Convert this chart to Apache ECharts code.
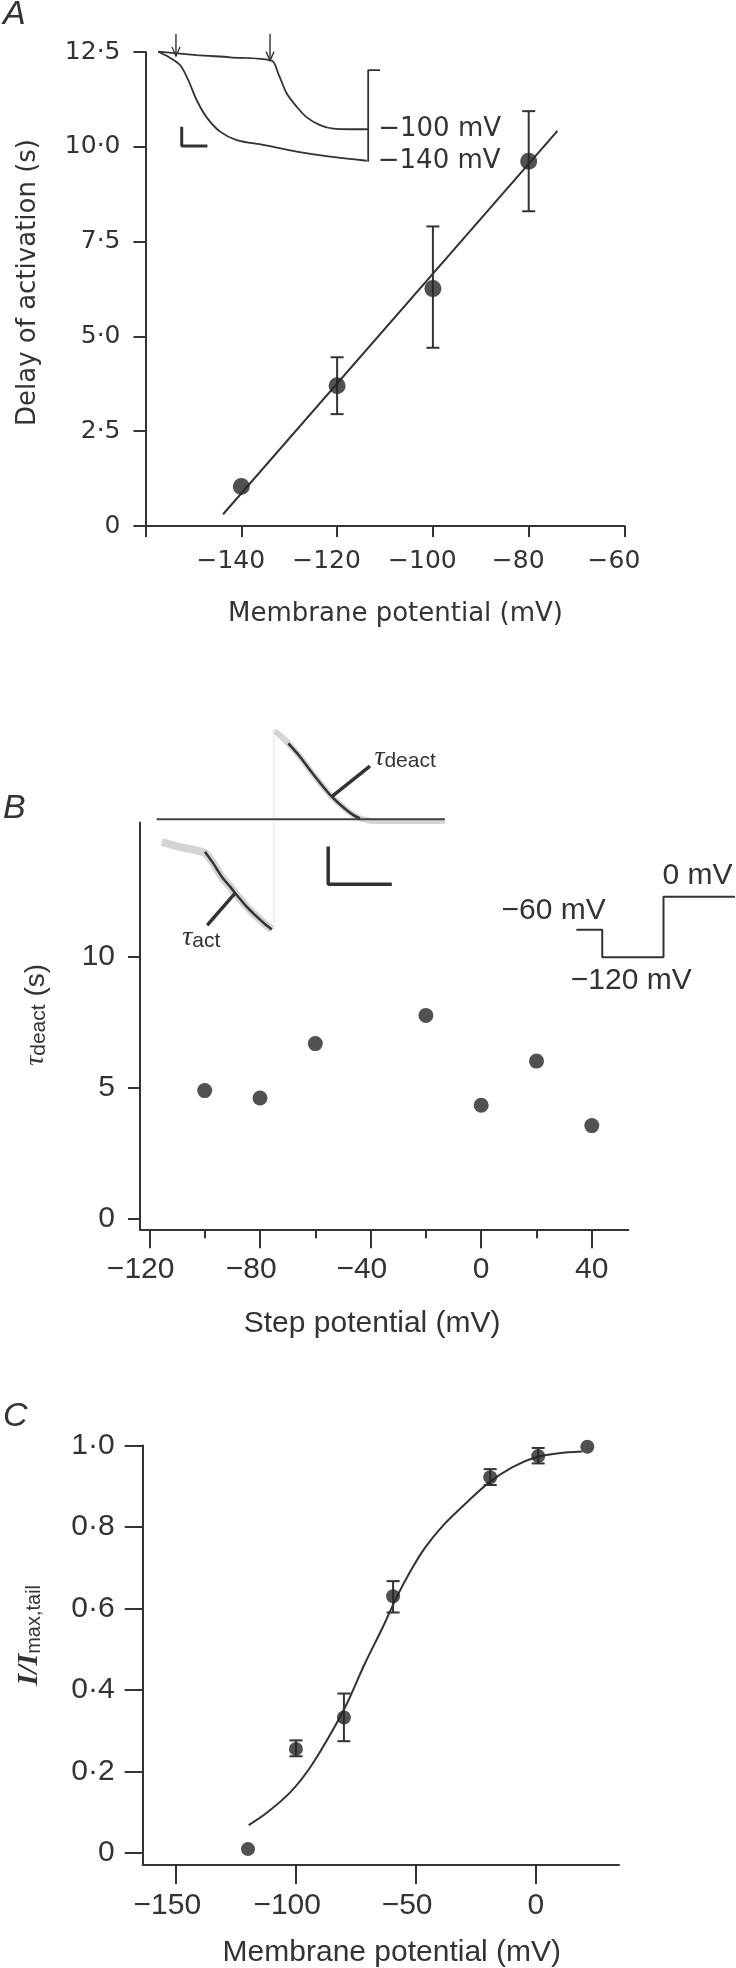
<!DOCTYPE html>
<html>
<head>
<meta charset="utf-8">
<script src="https://cdn.jsdelivr.net/npm/echarts@6/dist/echarts.min.js"></script>
<style>
  html, body { margin: 0; padding: 0; background: #fff; }
  #chart { width: 736px; height: 1968px; }
</style>
</head>
<body>
<div id="chart"></div>
<script>
// ---------- Panel A: delay of activation vs membrane potential ----------
const potentialA = [-140, -120, -100, -80];
const delayA = [1.04, 3.70, 6.26, 9.62];
const delayLowA = [null, 2.95, 4.70, 8.30];
const delayHighA = [null, 4.45, 7.90, 10.94];
const fitLineA = [[-143.8, 0.31], [-74.0, 10.42]];
const xTicksA = [-160, -140, -120, -100, -80, -60];
const xLabelsA = [-140, -120, -100, -80, -60];
const yTicksA = [0, 2.5, 5, 7.5, 10, 12.5];
const yLabelsA = ['0', '2·5', '5·0', '7·5', '10·0', '12·5'];

// inset A, current traces (arbitrary time / current units)
const trace100A = [[5.5, 84.5], [21.5, 82.1], [35.4, 80.5], [52.8, 78.1], [55.5, 69.1], [59.0, 54.8],
  [63.2, 45.2], [67.4, 37.6], [72.9, 32.1], [78.5, 29.5], [85.4, 29.1], [93.0, 29.1]];
const trace140A = [[5.5, 84.5], [9.7, 80.9], [14.6, 75.0], [18.0, 64.3], [21.5, 50.0], [25.7, 37.6],
  [31.3, 27.4], [38.2, 21.4], [49.3, 17.9], [63.2, 13.1], [77.1, 9.5], [92.4, 6.6]];
const bracketA = [[97.9, 71.4], [93.0, 71.4], [93.0, 5.9]];
const arrow1A = [[12.9, 97.1], [12.9, 81.4]];
const arrow2A = [[52.1, 97.1], [52.1, 78.1]];
const scaleBarA = [[15.3, 30.9], [15.3, 17.1], [26.0, 17.1]];

// ---------- Panel B: tau deact vs step potential ----------
const stepB = [-100, -80, -60, -20, 0, 20, 40];
const tauB = [4.89, 4.61, 6.69, 7.77, 4.33, 6.02, 3.55];
const xMajorB = [-120, -80, -40, 0, 40];
const xMinorB = [-100, -60, -20, 20];
const yTicksB = [0, 5, 10];

// inset B, current records (arbitrary units)
const baselineB = [[2.2, 61.2], [98.3, 61.2]];
const dottedB = [[41.3, 100], [41.3, 13.0]];
const deactNoiseB = [[41.5, 99.5], [43.5, 97.5], [46.1, 94.2], [50, 88.4], [53.3, 82.6], [57.2, 76.2],
  [60.6, 71.0], [64.4, 66.4], [67.8, 63.0], [70, 61.6], [75, 60.4], [98.3, 60.4]];
const deactFitB = [[46.1, 94.2], [50, 88.4], [53.3, 82.6], [57.2, 76.2], [60.6, 71.0], [64.4, 66.4],
  [67.8, 63.0], [70, 61.6]];
const deactPointerB = [[60.6, 71.0], [73.3, 84.3]];
const actNoiseB = [[3.9, 51.3], [10, 49.1], [15, 47.8], [18.3, 46.5], [21.1, 42.0], [23.9, 36.2],
  [26.7, 31.9], [29.4, 27.5], [32.2, 23.2], [35, 19.6], [37.8, 16.2], [40.6, 13.3]];
const actFitB = [[18.3, 47.1], [21.1, 42.0], [23.9, 36.2], [26.7, 31.9], [29.4, 27.5], [32.2, 23.2],
  [35, 19.6], [37.8, 16.2], [40.6, 13.3]];
const actPointerB = [[28.3, 29.0], [19.1, 15.2]];
const scaleBarB = [[59.4, 49.3], [59.4, 32.9], [80.6, 32.9]];
// voltage protocol sketch
const protocolB = [[9.4, 50.1], [24.0, 50.1], [24.0, 30.6], [58.8, 30.6], [58.8, 73.8], [99.3, 73.8]];

// ---------- Panel C: I / Imax,tail vs membrane potential ----------
const potentialC = [-120, -100, -80, -59.5, -19, 1, 21.5];
const currentC = [0.009, 0.255, 0.332, 0.630, 0.922, 0.974, 0.997];
const currentLowC = [null, 0.237, 0.274, 0.590, 0.903, 0.956, null];
const currentHighC = [null, 0.276, 0.391, 0.667, 0.942, 0.994, null];
const fitCurveC = [[-119.7, 0.068], [-112.0, 0.099], [-102.3, 0.149], [-94.6, 0.205], [-86.9, 0.278],
  [-79.2, 0.361], [-71.4, 0.463], [-63.7, 0.555], [-57.9, 0.629], [-52.1, 0.693], [-46.3, 0.748],
  [-38.6, 0.804], [-29.0, 0.859], [-19.3, 0.910], [-9.7, 0.947], [0, 0.971], [9.7, 0.981], [19.3, 0.985]];
const xTicksC = [-150, -100, -50, 0];
const yTicksC = [0, 0.2, 0.4, 0.6, 0.8, 1.0];
const yLabelsC = ['0', '0·2', '0·4', '0·6', '0·8', '1·0'];

const INK = '#333';
const DOT = '#262626';
const SANS_A = 'DejaVu Sans';
const SANS = 'Liberation Sans';
const SERIF = 'Liberation Serif';

function pickLabel(ticks, labels, v) {
  const i = ticks.findIndex(t => Math.abs(t - v) < 1e-6);
  return i < 0 ? '' : labels[i];
}

// digits centred on the tick, minus sign hanging to the left
function minusRich(v) {
  return v < 0 ? '{n|\u2212' + Math.abs(v) + '}' : '{p|' + v + '}';
}

function xMain(o) {
  return {
    type: 'value', gridIndex: o.grid, min: o.min, max: o.max, position: 'bottom',
    name: o.name, nameLocation: 'middle', nameGap: o.nameGap,
    nameTextStyle: { fontFamily: o.font, fontSize: o.nameSize, color: INK, padding: o.namePad },
    axisLine: { onZero: false, lineStyle: { color: INK, width: 2 } },
    axisTick: { length: o.tickLen, customValues: o.ticks, lineStyle: { color: INK, width: 2 } },
    axisLabel: {
      customValues: o.labels, margin: o.margin, formatter: minusRich,
      rich: {
        n: { fontFamily: o.font, fontSize: o.size, color: INK, padding: [0, o.minusW, 0, 0] },
        p: { fontFamily: o.font, fontSize: o.size, color: INK }
      }
    },
    splitLine: { show: false }
  };
}

function yMain(o) {
  return {
    type: 'value', gridIndex: o.grid, min: o.min, max: o.max,
    name: o.name, nameLocation: 'middle', nameGap: o.nameGap,
    nameTextStyle: Object.assign({ fontFamily: o.font, fontSize: o.nameSize, color: INK, padding: o.namePad }, o.nameStyle || {}),
    axisLine: { onZero: false, lineStyle: { color: INK, width: 2 } },
    axisTick: { length: o.tickLen, customValues: o.ticks, lineStyle: { color: INK, width: 2 } },
    axisLabel: {
      customValues: o.ticks, margin: o.margin, color: INK, fontFamily: o.font, fontSize: o.size,
      formatter: o.formatter
    },
    splitLine: { show: false }
  };
}

function hiddenAxis(grid) {
  return { type: 'value', gridIndex: grid, min: 0, max: 100, show: false };
}

function path(xi, yi, data, width, color, extra) {
  return Object.assign({
    type: 'line', xAxisIndex: xi, yAxisIndex: yi, data: data, symbol: 'none', silent: true,
    lineStyle: { color: color, width: width }, z: 3
  }, extra || {});
}

function errorBars(xi, yi, xs, lows, highs, capW) {
  const data = [];
  xs.forEach((x, i) => { if (lows[i] != null) data.push([x, lows[i], highs[i]]); });
  return {
    type: 'custom', xAxisIndex: xi, yAxisIndex: yi, data: data, silent: true, z: 4,
    encode: { x: 0, y: [1, 2] },
    renderItem: (params, api) => {
      const lo = api.coord([api.value(0), api.value(1)]);
      const hi = api.coord([api.value(0), api.value(2)]);
      const h = capW / 2;
      const st = { stroke: INK, lineWidth: 2 };
      return {
        type: 'group', children: [
          { type: 'line', shape: { x1: lo[0], y1: lo[1], x2: hi[0], y2: hi[1] }, style: st },
          { type: 'line', shape: { x1: lo[0] - h, y1: lo[1], x2: lo[0] + h, y2: lo[1] }, style: st },
          { type: 'line', shape: { x1: hi[0] - h, y1: hi[1], x2: hi[0] + h, y2: hi[1] }, style: st }
        ]
      };
    }
  };
}

function dots(xi, yi, xs, ys, size) {
  return {
    type: 'scatter', xAxisIndex: xi, yAxisIndex: yi, symbolSize: size, z: 5,
    itemStyle: { color: DOT }, data: xs.map((x, i) => [x, ys[i]])
  };
}

function arrow(xi, yi, pts) {
  return path(xi, yi, [
    { value: pts[0] },
    { value: pts[1], symbol: 'path://M0 0L5 10L10 0', symbolSize: [8, 9], symbolOffset: [0, -4.5],
      itemStyle: { color: 'transparent', borderColor: INK, borderWidth: 1.4 } }
  ], 1.4, INK, { showSymbol: true });
}

const tauRich = {
  t: { fontFamily: SERIF, fontStyle: 'italic', fontSize: 28, color: INK },
  s: { fontFamily: SANS, fontSize: 21, color: INK, verticalAlign: 'bottom' },
  p: { fontFamily: SANS, fontSize: 28, color: INK }
};

const chart = echarts.init(document.getElementById('chart'));

const panelLetter = { fontFamily: SANS, fontStyle: 'italic', fontWeight: 'normal', fontSize: 34, color: INK };

chart.setOption({
  animation: false,
  backgroundColor: '#fff',
  title: [
    { text: 'A', left: 3, top: -2, padding: 0, textStyle: panelLetter },
    { text: 'B', left: 3, top: 792, padding: 0, textStyle: panelLetter },
    { text: 'C', left: 3, top: 1400, padding: 0, textStyle: panelLetter }
  ],
  grid: [
    { left: 145.5, top: 52, width: 479, height: 474 },
    { left: 145, top: 30, width: 240, height: 140 },
    { left: 140, top: 822.4, width: 488.3, height: 406.9 },
    { left: 150, top: 730, width: 300, height: 230 },
    { left: 560, top: 860, width: 176, height: 140 },
    { left: 142.7, top: 1445.5, width: 476.3, height: 419.5 }
  ].map(g => Object.assign({ containLabel: false, outerBoundsMode: 'none' }, g)),
  xAxis: [
    xMain({ grid: 0, min: -160, max: -60, ticks: xTicksA, labels: xLabelsA, tickLen: 11, margin: 23,
      font: SANS_A, size: 25, minusW: 21, name: 'Membrane potential (mV)', nameSize: 26, nameGap: 75,
      namePad: [0, 0, 0, 21] }),
    hiddenAxis(1),
    xMain({ grid: 2, min: -123.4, max: 53.2, ticks: xMajorB, labels: xMajorB, tickLen: 19, margin: 25,
      font: SANS, size: 30, minusW: 17.5, name: 'Step potential (mV)', nameSize: 30, nameGap: 79,
      namePad: [0, 24, 0, 0] }),
    {
      type: 'value', gridIndex: 2, min: -123.4, max: 53.2, position: 'bottom',
      axisLine: { show: false, onZero: false },
      axisTick: { length: 9, customValues: xMinorB, lineStyle: { color: INK, width: 2 } },
      axisLabel: { show: false }, splitLine: { show: false }
    },
    hiddenAxis(3),
    hiddenAxis(4),
    xMain({ grid: 5, min: -163.9, max: 34.7, ticks: xTicksC, labels: xTicksC, tickLen: 19, margin: 26,
      font: SANS, size: 30, minusW: 17.5, name: 'Membrane potential (mV)', nameSize: 30, nameGap: 73,
      namePad: [0, 0, 0, 22] })
  ],
  yAxis: [
    yMain({ grid: 0, min: 0, max: 12.5, ticks: yTicksA, tickLen: 12, margin: 25, font: SANS_A, size: 25,
      formatter: v => pickLabel(yTicksA, yLabelsA, v),
      name: 'Delay of activation (s)', nameSize: 26, nameGap: 104, namePad: [0, 0, 0, 13] }),
    hiddenAxis(1),
    yMain({ grid: 2, min: -0.42, max: 15.16, ticks: yTicksB, tickLen: 12, margin: 25, font: SANS, size: 30,
      formatter: v => String(v),
      name: '{t|τ}{s|deact} {p|(s)}', nameSize: 28, nameGap: 90, namePad: [0, 0, 0, 22],
      nameStyle: { rich: tauRich } }),
    hiddenAxis(3),
    hiddenAxis(4),
    yMain({ grid: 5, min: -0.03, max: 1.0, ticks: yTicksC, tickLen: 18, margin: 28, font: SANS, size: 30,
      formatter: v => pickLabel(yTicksC, yLabelsC, v),
      name: '{i|I/I}{s|max,tail}', nameSize: 30, nameGap: 98, namePad: [0, 0, 0, 40],
      nameStyle: { rich: {
        i: { fontFamily: SERIF, fontStyle: 'italic', fontWeight: 'bold', fontSize: 30, color: INK },
        s: { fontFamily: SANS, fontSize: 20, color: INK, verticalAlign: 'bottom' }
      } } })
  ],
  series: [
    // A
    path(0, 0, fitLineA, 2, INK),
    errorBars(0, 0, potentialA, delayLowA, delayHighA, 13),
    dots(0, 0, potentialA, delayA, 17),
    // inset A
    path(1, 1, trace100A, 1.8, INK, { smooth: 0.3,
      endLabel: { show: true, formatter: '\u2212100 mV', distance: 10, color: INK, fontFamily: SANS_A, fontSize: 26 } }),
    path(1, 1, trace140A, 1.8, INK, { smooth: 0.3,
      endLabel: { show: true, formatter: '\u2212140 mV', distance: 11, color: INK, fontFamily: SANS_A, fontSize: 26 } }),
    path(1, 1, bracketA, 1.8, INK),
    arrow(1, 1, arrow1A),
    arrow(1, 1, arrow2A),
    path(1, 1, scaleBarA, 3, INK),
    // B
    dots(2, 2, stepB, tauB, 15),
    // inset B
    path(4, 3, dottedB, 1, '#c8c8c8', { lineStyle: { color: '#cccccc', width: 1, type: 'dotted' } }),
    path(4, 3, deactNoiseB, 6, '#d4d4d4', { smooth: 0.3 }),
    path(4, 3, actNoiseB, 8, '#d4d4d4', { smooth: 0.3 }),
    path(4, 3, baselineB, 2, '#444'),
    path(4, 3, deactFitB, 2.5, INK, { smooth: 0.3 }),
    path(4, 3, actFitB, 2.5, INK, { smooth: 0.3 }),
    path(4, 3, [
      { value: deactPointerB[0] },
      { value: deactPointerB[1], label: { show: true, position: 'right', distance: 4, offset: [0, -8],
        formatter: '{t|τ}{s|deact}', rich: tauRich } }
    ], 3.5, INK, { showSymbol: true, symbol: 'circle', symbolSize: 1, itemStyle: { color: INK } }),
    path(4, 3, [
      { value: actPointerB[0] },
      { value: actPointerB[1], label: { show: true, position: 'bottom', distance: 2, offset: [-6, -4],
        formatter: '{t|τ}{s|act}', rich: tauRich } }
    ], 3.5, INK, { showSymbol: true, symbol: 'circle', symbolSize: 1, itemStyle: { color: INK } }),
    path(4, 3, scaleBarB, 3.5, INK),
    // voltage protocol
    path(5, 4, protocolB.map((p, i) => {
      const item = { value: p };
      const lab = { show: true, color: INK, fontFamily: SANS, fontSize: 30 };
      if (i === 0) item.label = Object.assign({ position: 'top', distance: 4, offset: [-23, 0], formatter: '\u221260 mV' }, lab);
      if (i === 2) item.label = Object.assign({ position: 'bottom', distance: 8, offset: [29, 0], formatter: '\u2212120 mV' }, lab);
      if (i === 4) item.label = Object.assign({ position: 'top', distance: 5, offset: [34, 0], formatter: '0 mV' }, lab);
      return item;
    }), 2, INK, { showSymbol: true, symbol: 'circle', symbolSize: 1, itemStyle: { color: INK } }),
    // C
    path(6, 5, fitCurveC, 2, INK, { smooth: 0.3 }),
    errorBars(6, 5, potentialC, currentLowC, currentHighC, 13),
    dots(6, 5, potentialC, currentC, 14)
  ]
});
</script>
</body>
</html>
